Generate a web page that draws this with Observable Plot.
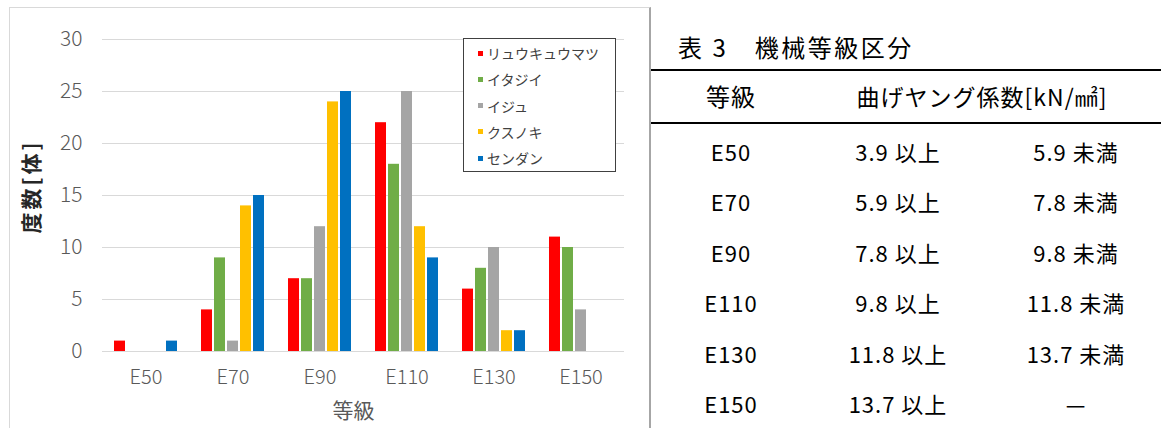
<!DOCTYPE html>
<html>
<head>
<meta charset="utf-8">
<script src="https://cdn.jsdelivr.net/npm/d3@7"></script>
<script src="https://cdn.jsdelivr.net/npm/@observablehq/plot@0.6"></script>
<style>
  html, body { margin: 0; padding: 0; background: #fff; }
  #page { position: relative; width: 1161px; height: 428px; overflow: hidden; background: #fff;
          font-family: "Noto Sans CJK JP", sans-serif; }
  #chartFrame { position: absolute; left: 9px; top: 7px; width: 642px; height: 440px; box-sizing: border-box;
                border: 1px solid #d9d9d9; border-right: 2px solid #a6a6a6; }
  #chart { position: absolute; left: 0; top: 0; }
  #legend { position: absolute; left: 463px; top: 38px; width: 153px; height: 134px; box-sizing: border-box;
            border: 1px solid #404040; background: #fff; padding: 1px 0 0 14px; }
  #legend .chartleg-swatches { margin: 0; font-family: "Noto Sans CJK JP", sans-serif; font-size: 14px; color: #404040; }
  #legend .chartleg-swatch { height: 26.25px; padding: 0; }
  #legend .chartleg-swatch > svg { margin-right: 4px; }
  .tbl { position: absolute; transform: translate(-50%, -50%); white-space: nowrap; color: #000;
         font-size: 22px; letter-spacing: 1px; line-height: 1; }
  .rule { position: absolute; left: 651px; width: 510px; height: 2px; background: #000; }
  #tableTitle { position: absolute; left: 678px; top: 47px; transform: translateY(-50%); font-size: 24px;
                letter-spacing: 2.5px; line-height: 1; color: #000; white-space: nowrap; }
</style>
</head>
<body>
<div id="page">
  <div id="chartFrame"></div>
  <div id="chart"></div>
  <div id="legend"></div>
  <div id="table"></div>
</div>
<script>
// Counts of specimens per machine grade, one list per species
const grades = ["E50", "E70", "E90", "E110", "E130", "E150"];
const species = ["リュウキュウマツ", "イタジイ", "イジュ", "クスノキ", "センダン"];
const speciesColors = ["#ff0000", "#70ad47", "#a5a5a5", "#ffc000", "#0070c0"];
const ryukyuMatsu = [1, 4, 7, 22, 6, 11];
const itajii = [0, 9, 7, 18, 8, 10];
const iju = [0, 1, 12, 25, 10, 4];
const kusunoki = [0, 14, 24, 12, 2, 0];
const sendan = [1, 15, 25, 9, 2, 0];
const yTicks = [0, 5, 10, 15, 20, 25, 30];

// Table 3: bending Young's modulus range for each grade [kN/mm²]
const tableTitle = "表 3　機械等級区分";
const tableHeaders = ["等級", "曲げヤング係数[kN/㎟]"];
const lowerBounds = [3.9, 5.9, 7.8, 9.8, 11.8, 13.7];
const upperBounds = [5.9, 7.8, 9.8, 11.8, 13.7, null];

const counts = [ryukyuMatsu, itajii, iju, kusunoki, sendan];
const rows = species.flatMap((s, i) => grades.map((g, j) => ({grade: g, species: s, count: counts[i][j]})));

const chart = Plot.plot({
  width: 650,
  height: 428,
  marginLeft: 101,
  marginRight: 25,
  marginTop: 39,
  marginBottom: 77,
  style: {background: "transparent", fontFamily: "'Noto Sans CJK JP', sans-serif", color: "#595959"},
  fx: {domain: grades, padding: 0},
  x: {domain: species, paddingInner: 0.14, paddingOuter: 0.83, axis: null},
  y: {domain: [0, 30]},
  color: {domain: species, range: speciesColors},
  marks: [
    Plot.gridY(yTicks, {stroke: "#d9d9d9", strokeOpacity: 1}),
    Plot.axisY(yTicks, {tickSize: 0, tickPadding: 20, fontSize: 21, fontWeight: 300, label: "度数[体]",
                        labelAnchor: "center", labelOffset: 78, labelArrow: false}),
    Plot.axisFx({anchor: "bottom", tickSize: 0, tickPadding: 18, fontSize: 20, fontWeight: 300, label: "等級",
                 labelAnchor: "center", labelOffset: 66, labelArrow: false}),
    Plot.barY(rows, {fx: "grade", x: "species", y: "count", fill: "species"})
  ]
});
document.getElementById("chart").append(chart);

// Axis titles: bold y title nudged up, x title shifted left a little
const svg = d3.select(chart.tagName.toLowerCase() === "svg" ? chart : chart.querySelector("svg"));
const yLabel = svg.select("g[aria-label='y-axis label']");
yLabel.attr("font-weight", "bold").attr("font-size", 21).attr("letter-spacing", "3px").attr("fill", "#262626")
  .attr("transform", (yLabel.attr("transform") || "") + " translate(0,-9)");
const fxLabel = svg.select("g[aria-label='fx-axis label']");
fxLabel.attr("font-size", 21).attr("font-weight", 400)
  .attr("transform", (fxLabel.attr("transform") || "") + " translate(-10,0)");

// Legend drawn from the plot's color scale
document.getElementById("legend").append(
  chart.legend("color", {columns: 1, swatchSize: 5, className: "chartleg"})
);

// Table
const page = d3.select("#page");
page.append("div").attr("id", "tableTitle").text(tableTitle);
page.append("div").attr("class", "rule").style("top", "69px");
page.append("div").attr("class", "rule").style("top", "122px");
const colX = [731, 898, 1076];
page.append("div").attr("class", "tbl").style("left", colX[0] + "px").style("top", "96px")
  .style("font-size", "24px").text(tableHeaders[0]);
page.append("div").attr("class", "tbl").style("left", "982px").style("top", "96px")
  .style("font-size", "23px").text(tableHeaders[1]);
grades.forEach((g, i) => {
  const y = 151 + i * 50.4;
  const cells = [
    g,
    lowerBounds[i].toFixed(1) + " 以上",
    upperBounds[i] == null ? "—" : upperBounds[i].toFixed(1) + " 未満"
  ];
  cells.forEach((t, c) => {
    page.append("div").attr("class", "tbl").style("left", colX[c] + "px").style("top", y + "px").text(t);
  });
});
</script>
</body>
</html>
